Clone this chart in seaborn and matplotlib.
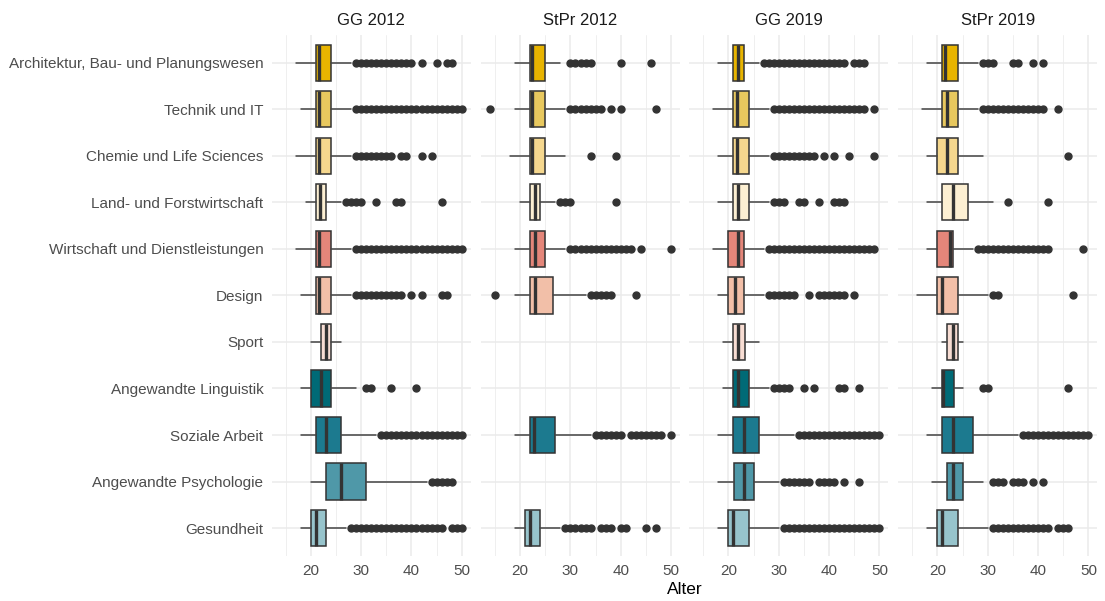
import matplotlib
matplotlib.use("Agg")
import matplotlib.pyplot as plt
import seaborn as sns

# -----------------------------
# DATA
# -----------------------------
CATEGORIES = [
    "Architektur, Bau- und Planungswesen",
    "Technik und IT",
    "Chemie und Life Sciences",
    "Land- und Forstwirtschaft",
    "Wirtschaft und Dienstleistungen",
    "Design",
    "Sport",
    "Angewandte Linguistik",
    "Soziale Arbeit",
    "Angewandte Psychologie",
    "Gesundheit",
]
FACETS = ["GG 2012", "StPr 2012", "GG 2019", "StPr 2019"]
BOX_COLORS = ["#E8B400", "#E8C85E", "#F5D78E", "#FCEFD2", "#E4867A", "#F2BFA8",
              "#F8DDD3", "#006A76", "#1C7A8F", "#4F98A8", "#97C4CC"]

# (lower whisker, q1, median, q3, upper whisker) per category, None = no data
GG12_BOX = [(17, 21, 21.6, 24, 28), (18, 21, 21.6, 24, 28), (17, 21, 21.6, 24, 28),
            (19, 21, 21.8, 23, 26), (17, 21, 21.7, 24, 28), (18, 21, 21.6, 24, 28),
            (20, 22, 23, 24, 26), (18, 20, 22, 24, 29), (18, 21, 23, 26, 33),
            (20, 23, 26, 31, 43), (18, 20, 21, 23, 27)]
GG12_OUT = [
    [29, 30, 31, 32, 33, 34, 35, 36, 37, 38, 39, 40, 42, 45, 47, 48],
    [29, 30, 31, 32, 33, 34, 35, 36, 37, 38, 39, 40, 41, 42, 43, 44, 45, 46, 47, 48, 49, 50],
    [29, 30, 31, 32, 33, 34, 35, 36, 38, 39, 42, 44],
    [27, 28, 29, 30, 33, 37, 38, 46],
    [29, 30, 31, 32, 33, 34, 35, 36, 37, 38, 39, 40, 41, 42, 43, 44, 45, 46, 47, 48, 49, 50],
    [29, 30, 31, 32, 33, 34, 35, 36, 37, 38, 40, 42, 46, 47],
    [],
    [31, 32, 36, 41],
    [34, 35, 36, 37, 38, 39, 40, 41, 42, 43, 44, 45, 46, 47, 48, 49, 50],
    [44, 45, 46, 47, 48],
    [28, 29, 30, 31, 32, 33, 34, 35, 36, 37, 38, 39, 40, 41, 42, 43, 44, 45, 46, 48, 49, 50],
]

STPR12_BOX = [(19, 22, 22.4, 25, 28), (19, 22, 22.4, 25, 29), (18, 22, 22.4, 25, 29),
              (20, 22, 23, 24, 27), (19, 22, 23, 25, 29), (19, 22, 23, 26.5, 33),
              None, None, (19, 22, 22.7, 27, 34), None, (19, 21, 22, 24, 28)]
STPR12_OUT = [
    [30, 31, 32, 33, 34, 40, 46],
    [14, 30, 31, 32, 33, 34, 35, 36, 38, 40, 47],
    [34, 39],
    [28, 29, 30, 39],
    [30, 31, 32, 33, 34, 35, 36, 37, 38, 39, 40, 41, 42, 44, 50],
    [15, 34, 35, 36, 37, 38, 43],
    [],
    [],
    [35, 36, 37, 38, 39, 40, 42, 43, 44, 45, 46, 47, 48, 50],
    [],
    [29, 30, 31, 32, 33, 34, 36, 37, 38, 40, 41, 45, 47],
]

GG19_BOX = [(18, 21, 22, 23, 26), (17, 21, 21.8, 24, 28), (18, 21, 21.8, 24, 28),
            (18, 21, 22, 24, 28), (17, 20, 22, 23, 27), (18, 20, 21.3, 23, 27),
            (19, 21, 22, 23.3, 26), (19, 21, 22, 24, 28), (18, 21, 23, 26, 33),
            (18, 21.2, 23, 25, 30), (18, 20, 21, 24, 30)]
GG19_OUT = [
    [27, 28, 29, 30, 31, 32, 33, 34, 35, 36, 37, 38, 39, 40, 41, 42, 43, 45, 46, 47],
    [29, 30, 31, 32, 33, 34, 35, 36, 37, 38, 39, 40, 41, 42, 43, 44, 45, 46, 47, 49],
    [29, 30, 31, 32, 33, 34, 35, 36, 37, 39, 41, 44, 49],
    [29, 30, 31, 34, 35, 38, 41, 42, 43],
    [28, 29, 30, 31, 32, 33, 34, 35, 36, 37, 38, 39, 40, 41, 42, 43, 44, 45, 46, 47, 48, 49],
    [28, 29, 30, 31, 32, 33, 36, 38, 39, 40, 41, 42, 43, 45],
    [],
    [29, 30, 31, 32, 35, 37, 42, 43, 46],
    [34, 35, 36, 37, 38, 39, 40, 41, 42, 43, 44, 45, 46, 47, 48, 49, 50],
    [31, 32, 33, 34, 35, 36, 38, 39, 40, 41, 43, 46],
    [31, 32, 33, 34, 35, 36, 37, 38, 39, 40, 41, 42, 43, 44, 45, 46, 47, 48, 49, 50],
]

STPR19_BOX = [(18, 21, 21.6, 24, 28), (17, 21, 22, 24, 28), (18, 20, 22, 24, 29),
              (18, 21, 23, 26, 31), (18, 20, 22.4, 23, 27), (16, 20, 21, 24, 30),
              (21, 22, 23, 24, 25), (19, 21, 21.2, 23.3, 25), (18, 21, 23, 27, 36),
              (19, 22, 23, 25, 29), (18, 20, 21, 24, 30)]
STPR19_OUT = [
    [29, 30, 31, 35, 36, 39, 41],
    [29, 30, 31, 32, 33, 34, 35, 36, 37, 38, 39, 40, 41, 44],
    [46],
    [34, 42],
    [28, 29, 30, 31, 32, 33, 34, 35, 36, 37, 38, 39, 40, 41, 42, 49],
    [31, 32, 47],
    [],
    [29, 30, 46],
    [37, 38, 39, 40, 41, 42, 43, 44, 45, 46, 47, 48, 49, 50],
    [31, 32, 33, 35, 36, 37, 39, 41],
    [31, 32, 33, 34, 35, 36, 37, 38, 39, 40, 41, 42, 44, 45, 46],
]

X_TICKS = [20, 30, 40, 50]
X_MINOR = [15, 25, 35, 45]

# -----------------------------
# STYLE
# -----------------------------
sns.set_theme(style="whitegrid")
plt.rcParams["font.family"] = ["Liberation Sans", "DejaVu Sans"]

W, H = 1105, 601
fig = plt.figure(figsize=(W / 100, H / 100), dpi=100)

panel_left = [271.6, 480.9, 689.2, 898.2]
panel_w = 199.2
panel_top, panel_bottom = 34.8, 556.0

facet_data = [(GG12_BOX, GG12_OUT), (STPR12_BOX, STPR12_OUT),
              (GG19_BOX, GG19_OUT), (STPR19_BOX, STPR19_OUT)]

for i, (name, (boxes, outs)) in enumerate(zip(FACETS, facet_data)):
    ax = fig.add_axes([panel_left[i] / W, 1 - panel_bottom / H,
                       panel_w / W, (panel_bottom - panel_top) / H])
    stats, pos, cols = [], [], []
    for j, b in enumerate(boxes):
        if b is None:
            continue
        stats.append(dict(whislo=b[0], q1=b[1], med=b[2], q3=b[3], whishi=b[4],
                          fliers=outs[j]))
        pos.append(j)
        cols.append(BOX_COLORS[j])

    kw = dict(positions=pos, widths=0.78, patch_artist=True, showcaps=False,
              manage_ticks=False,
              boxprops=dict(edgecolor="#333333", linewidth=1.1),
              medianprops=dict(color="#333333", linewidth=2.4, solid_capstyle="butt"),
              whiskerprops=dict(color="#444444", linewidth=1.1),
              flierprops=dict(marker="o", markerfacecolor="#333333",
                              markeredgecolor="#333333", markersize=5.0,
                              linestyle="none"))
    try:
        art = ax.bxp(stats, orientation="horizontal", **kw)
    except TypeError:
        art = ax.bxp(stats, vert=False, **kw)
    for patch, c in zip(art["boxes"], cols):
        patch.set_facecolor(c)

    ax.set_xlim(12.2, 51.8)
    ax.set_ylim(10.6, -0.6)
    ax.set_xticks(X_TICKS)
    ax.set_xticks(X_MINOR, minor=True)
    ax.set_yticks(range(len(CATEGORIES)))
    ax.set_facecolor("white")
    for s in ax.spines.values():
        s.set_visible(False)
    ax.set_axisbelow(True)
    ax.grid(which="major", color="#EBEBEB", linewidth=1.1)
    ax.grid(which="minor", axis="x", color="#EFEFEF", linewidth=0.7)
    ax.tick_params(axis="both", which="both", length=0, labelsize=11,
                   labelcolor="#4D4D4D", pad=6)
    if i == 0:
        ax.set_yticklabels(CATEGORIES)
    else:
        ax.set_yticklabels([])

    fig.text((panel_left[i] + panel_w / 2) / W, 1 - 20.7 / H, name,
             ha="center", va="center", fontsize=12, color="#1A1A1A")

fig.text(684.5 / W, 1 - 590 / H, "Alter", ha="center", va="center",
         fontsize=12.5, color="black")

fig.savefig("out.png", dpi=100)
plt.close(fig)
